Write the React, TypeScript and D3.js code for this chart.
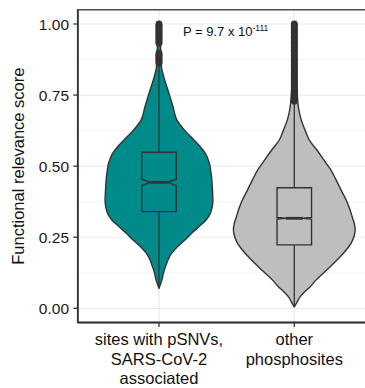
import React from "react";
import * as d3 from "d3";

// ---------- data ----------
const categories = ["sites with pSNVs, SARS-CoV-2 associated", "other phosphosites"];
const categoryLines = [
  ["sites with pSNVs,", "SARS-CoV-2", "associated"],
  ["other", "phosphosites"],
];
const fills = ["#008B8B", "#BEBEBE"];

const yTicks = [0, 0.25, 0.5, 0.75, 1];
const yTickLabels = ["0.00", "0.25", "0.50", "0.75", "1.00"];
const yMinor = [0.125, 0.375, 0.625, 0.875];

// violin density profiles (value, relative density)
const tealDensityV = [0.07, 0.085, 0.1, 0.125, 0.146, 0.17, 0.193, 0.215, 0.24, 0.265, 0.287, 0.31, 0.334, 0.36, 0.381, 0.42, 0.45, 0.48, 0.51, 0.545, 0.57, 0.592, 0.625, 0.662, 0.71, 0.756, 0.8, 0.85, 0.9, 0.95, 1.0];
const tealDensity = [0, 1.5, 3, 4.5, 6.5, 9, 12.5, 18, 26, 33, 40, 47, 51.5, 53.5, 54, 53.5, 53, 52, 50.5, 46.5, 41, 35, 26, 18, 14, 10, 6, 2.5, 1.8, 1.5, 0].map((d) => d / 61);
const greyDensityV = [0.005, 0.02, 0.041, 0.06, 0.076, 0.1, 0.123, 0.15, 0.181, 0.205, 0.229, 0.255, 0.275, 0.3, 0.322, 0.35, 0.381, 0.415, 0.451, 0.49, 0.52, 0.555, 0.592, 0.625, 0.662, 0.7, 0.75, 0.8, 0.9, 1.0];
const greyDensity = [0, 2.5, 6, 11, 16, 22, 29, 37, 46, 52, 57, 60, 61, 60, 58, 55.5, 52, 47, 42, 36, 30, 23, 15, 11, 7, 4.5, 3, 2.3, 2, 0].map((d) => d / 61);

// boxplot stats
const q1 = [0.34, 0.223];
const median = [0.443, 0.3166];
const q3 = [0.549, 0.424];
const whiskerLow = [0.075, 0.005];
const whiskerHigh = [0.855, 0.725];
const notchHalf = [0.011, 0.003];

const tealOutliers = [0.862, 0.866, 0.87, 0.874, 0.878, 0.882, 0.886, 0.89, 0.894, 0.898, 0.932, 0.936, 0.94, 0.944, 0.948, 0.952, 0.956, 0.96, 0.964, 0.968, 0.972, 0.976, 0.98, 0.984, 0.988, 0.992, 0.996, 1.0];
const greyOutliers = [0.728, 0.732, 0.737, 0.741, 0.746, 0.75, 0.755, 0.759, 0.764, 0.768, 0.773, 0.777, 0.782, 0.786, 0.791, 0.795, 0.8, 0.804, 0.809, 0.813, 0.818, 0.822, 0.827, 0.831, 0.836, 0.84, 0.845, 0.849, 0.854, 0.858, 0.863, 0.867, 0.872, 0.876, 0.881, 0.885, 0.89, 0.894, 0.899, 0.903, 0.908, 0.912, 0.917, 0.921, 0.926, 0.93, 0.935, 0.939, 0.944, 0.948, 0.953, 0.957, 0.962, 0.966, 0.971, 0.975, 0.98, 0.984, 0.989, 0.993, 0.997, 1.0];

const pLabel = "P = 9.7 x 10";
const pExponent = "-111";
const yTitle = "Functional relevance score";

// ---------- layout ----------
const W = 365;
const H = 388;
const panelLeft = 77.8;
const step = 135.3;
const panelRight = panelLeft + 2.2 * step;
const dark = "#333333";
const font = "'Liberation Sans', Arial, Helvetica, sans-serif";

export default function App() {
  const x = d3.scalePoint<string>().domain(categories).range([panelLeft + 0.6 * step, panelLeft + 1.6 * step]);
  const y = d3.scaleLinear().domain([0, 1]).range([308.3, 24]);
  const panelTop = y(1.05);
  const panelBottom = y(-0.05);
  const wScale = d3.scaleLinear().domain([0, 1]).range([0, 0.45 * step]);
  const boxHalf = 0.255 * step / 2;

  const profiles = [
    tealDensityV.map((v, i) => ({ v, d: tealDensity[i] })),
    greyDensityV.map((v, i) => ({ v, d: greyDensity[i] })),
  ];
  const outliers = [tealOutliers, greyOutliers];

  return (
    <svg width={W} height={H} style={{ position: "fixed", left: 0, top: 0, background: "#fff" }} fontFamily={font}>
      <rect x={0} y={0} width={W} height={H} fill="#fff" />
      {/* grid */}
      {yMinor.map((t) => (
        <line key={"mn" + t} x1={panelLeft} x2={panelRight} y1={y(t)} y2={y(t)} stroke="#F2F2F2" strokeWidth={0.8} />
      ))}
      {yTicks.map((t) => (
        <line key={"mj" + t} x1={panelLeft} x2={panelRight} y1={y(t)} y2={y(t)} stroke="#EBEBEB" strokeWidth={1.2} />
      ))}
      {categories.map((c) => (
        <line key={"vg" + c} x1={x(c)} x2={x(c)} y1={panelTop} y2={panelBottom} stroke="#EBEBEB" strokeWidth={1.2} />
      ))}

      {/* violins */}
      {categories.map((c, i) => {
        const cx = x(c) as number;
        const area = d3
          .area<{ v: number; d: number }>()
          .y((p) => y(p.v))
          .x0((p) => cx - wScale(p.d))
          .x1((p) => cx + wScale(p.d))
          .curve(d3.curveMonotoneY);
        return (
          <path key={"vi" + c} d={area(profiles[i]) || ""} fill={fills[i]} stroke={dark} strokeWidth={1.4} strokeLinejoin="round" />
        );
      })}

      {/* boxplots */}
      {categories.map((c, i) => {
        const cx = x(c) as number;
        const l = cx - boxHalf;
        const r = cx + boxHalf;
        const inset = boxHalf * 0.5;
        const path = d3.path();
        path.moveTo(l, y(q3[i]));
        path.lineTo(r, y(q3[i]));
        path.lineTo(r, y(median[i] + notchHalf[i]));
        path.lineTo(r - inset, y(median[i]));
        path.lineTo(r, y(median[i] - notchHalf[i]));
        path.lineTo(r, y(q1[i]));
        path.lineTo(l, y(q1[i]));
        path.lineTo(l, y(median[i] - notchHalf[i]));
        path.lineTo(l + inset, y(median[i]));
        path.lineTo(l, y(median[i] + notchHalf[i]));
        path.closePath();
        return (
          <g key={"bx" + c}>
            <line x1={cx} x2={cx} y1={y(q3[i])} y2={y(whiskerHigh[i])} stroke={dark} strokeWidth={1.3} />
            <line x1={cx} x2={cx} y1={y(q1[i])} y2={y(whiskerLow[i])} stroke={dark} strokeWidth={1.3} />
            <path d={path.toString()} fill={fills[i]} stroke={dark} strokeWidth={1.4} strokeLinejoin="miter" />
            <line x1={l + inset} x2={r - inset} y1={y(median[i])} y2={y(median[i])} stroke={dark} strokeWidth={2.8} />
            {outliers[i].map((o, k) => (
              <circle key={k} cx={cx} cy={y(o)} r={3.4} fill={dark} />
            ))}
          </g>
        );
      })}

      {/* p-value */}
      <text x={183} y={35.5} fontSize={13} fill="#111">
        {pLabel}
        <tspan dy={-5} fontSize={8.5}>{pExponent}</tspan>
      </text>

      {/* panel border */}
      <rect x={panelLeft} y={panelTop} width={panelRight - panelLeft} height={panelBottom - panelTop} fill="none" stroke={dark} strokeWidth={1.3} />
      <line x1={panelLeft} x2={panelLeft} y1={panelTop} y2={panelBottom} stroke={dark} strokeWidth={1.8} />
      <line x1={panelLeft} x2={panelRight} y1={panelBottom} y2={panelBottom} stroke={dark} strokeWidth={1.8} />

      {/* y axis */}
      {yTicks.map((t, i) => (
        <g key={"yt" + t}>
          <line x1={panelLeft - 4.5} x2={panelLeft} y1={y(t)} y2={y(t)} stroke={dark} strokeWidth={1.3} />
          <text x={69} y={y(t)} dy="0.36em" textAnchor="end" fontSize={15.5} fill="#1a1a1a">
            {yTickLabels[i]}
          </text>
        </g>
      ))}
      <text transform={`translate(24, ${(panelTop + panelBottom) / 2}) rotate(-90)`} textAnchor="middle" fontSize={16.5} fill="#111">
        {yTitle}
      </text>

      {/* x axis */}
      {categories.map((c, i) => (
        <g key={"xt" + c}>
          <line x1={x(c)} x2={x(c)} y1={panelBottom} y2={panelBottom + 4.5} stroke={dark} strokeWidth={1.3} />
          {categoryLines[i].map((ln, k) => (
            <text key={k} x={x(c)} y={345 + k * 19.5} textAnchor="middle" fontSize={16.5} fill="#111">
              {ln}
            </text>
          ))}
        </g>
      ))}
    </svg>
  );
}
